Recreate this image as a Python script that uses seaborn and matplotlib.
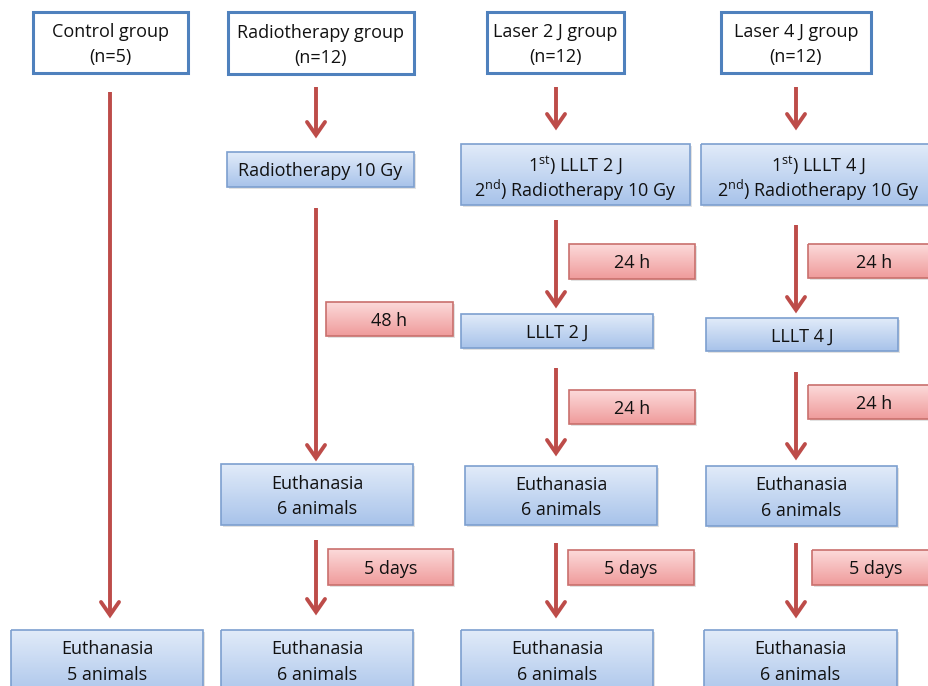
import numpy as np
import seaborn as sns
import matplotlib.pyplot as plt
from matplotlib.patches import FancyBboxPatch

sns.set_style("white")
plt.rcParams['font.family'] = ['Open Sans', 'DejaVu Sans']
plt.rcParams['mathtext.fontset'] = 'custom'
plt.rcParams['mathtext.rm'] = 'Open Sans'

# group headers
groups = ["Control group\n(n=5)", "Radiotherapy group\n(n=12)",
          "Laser 2 J group\n(n=12)", "Laser 4 J group\n(n=12)"]
# treatment / step boxes (blue)
steps = ["Radiotherapy 10 Gy",
         "1$^{\\rm st}$) LLLT 2 J\n2$^{\\rm nd}$) Radiotherapy 10 Gy",
         "1$^{\\rm st}$) LLLT 4 J\n2$^{\\rm nd}$) Radiotherapy 10 Gy",
         "LLLT 2 J", "LLLT 4 J",
         "Euthanasia\n6 animals", "Euthanasia\n6 animals", "Euthanasia\n6 animals",
         "Euthanasia\n5 animals", "Euthanasia\n6 animals",
         "Euthanasia\n6 animals", "Euthanasia\n6 animals"]
# time intervals (red)
delays = ["48 h", "24 h", "24 h", "24 h", "24 h", "5 days", "5 days", "5 days"]

# layout in pixels (x0, y0, x1, y1), y measured from the top
group_pos = [(33, 12, 188, 73), (228, 12, 414, 74), (487, 12, 624, 73), (721, 12, 871, 73)]
step_pos = [(227, 152, 414, 187), (461, 144, 690, 205), (701, 144, 935, 205),
            (461, 314, 653, 348), (706, 318, 898, 351),
            (221, 464, 413, 525), (465, 466, 657, 525), (706, 466, 897, 526),
            (11, 630, 203, 700), (221, 630, 413, 700), (461, 630, 653, 700), (704, 630, 897, 700)]
delay_pos = [(326, 302, 453, 336), (569, 244, 695, 279), (808, 244, 940, 278),
             (569, 390, 695, 424), (808, 385, 940, 419),
             (328, 549, 453, 585), (568, 550, 694, 585), (812, 550, 940, 585)]
arrows = [(110, 92, 615), (316, 87, 135), (316, 208, 458), (316, 540, 612),
          (556, 87, 127), (556, 220, 305), (556, 368, 453), (556, 543, 615),
          (796, 87, 127), (796, 225, 310), (796, 372, 457), (796, 543, 615)]

fig = plt.figure(figsize=(9.29, 6.86), dpi=100)
ax = fig.add_axes([0, 0, 1, 1])
ax.set_xlim(0, 929)
ax.set_ylim(686, 0)
ax.axis("off")

FS = 13
GAP = 25  # line pitch in px


def put_text(cx, cy, label):
    lines = label.split("\n")
    n = len(lines)
    for i, ln in enumerate(lines):
        y = cy + (i - (n - 1) / 2) * GAP
        ax.text(cx, y, ln, ha="center", va="center_baseline", fontsize=FS,
                color="#111111", zorder=4)


def grad_box(x0, y0, x1, y1, top, bottom, edge, label, lw=1.2):
    sh = FancyBboxPatch((x0 + 2, y0 + 2), x1 - x0, y1 - y0, boxstyle="square,pad=0",
                        fc="#e2e2e2", ec="none", zorder=1)
    ax.add_patch(sh)
    p = FancyBboxPatch((x0, y0), x1 - x0, y1 - y0, boxstyle="square,pad=0",
                       fc="none", ec=edge, lw=lw, zorder=3)
    ax.add_patch(p)
    c0 = np.array(plt.matplotlib.colors.to_rgb(top))
    c1 = np.array(plt.matplotlib.colors.to_rgb(bottom))
    t = np.linspace(0, 1, 64)[:, None]
    img = (c0 * (1 - t) + c1 * t)[:, None, :]
    im = ax.imshow(img, extent=(x0, x1, y1, y0), aspect="auto", zorder=2)
    im.set_clip_path(p)
    cy = (y0 + y1) / 2 if y1 < 690 else y0 + 30
    put_text((x0 + x1) / 2, cy, label)


for (x0, y0, x1, y1), lab in zip(group_pos, groups):
    ax.add_patch(FancyBboxPatch((x0, y0), x1 - x0, y1 - y0, boxstyle="square,pad=0",
                                fc="white", ec="#4f81bd", lw=2.2, zorder=3))
    put_text((x0 + x1) / 2, (y0 + y1) / 2, lab)

for pos, lab in zip(step_pos, steps):
    grad_box(*pos, "#e1ebf9", "#a8c3ea", "#7d9fcf", lab)

for pos, lab in zip(delay_pos, delays):
    grad_box(*pos, "#fcdada", "#ef9b9b", "#c9706d", lab)

for x, ya, yb in arrows:
    ax.plot([x, x], [ya, yb - 1], color="#bd4c49", lw=2.8, solid_capstyle="butt")
    ax.plot([x - 9, x, x + 9], [yb - 13, yb, yb - 13], color="#bd4c49",
            lw=2.8, solid_capstyle="round", solid_joinstyle="miter")

fig.savefig("out.png", dpi=100)
